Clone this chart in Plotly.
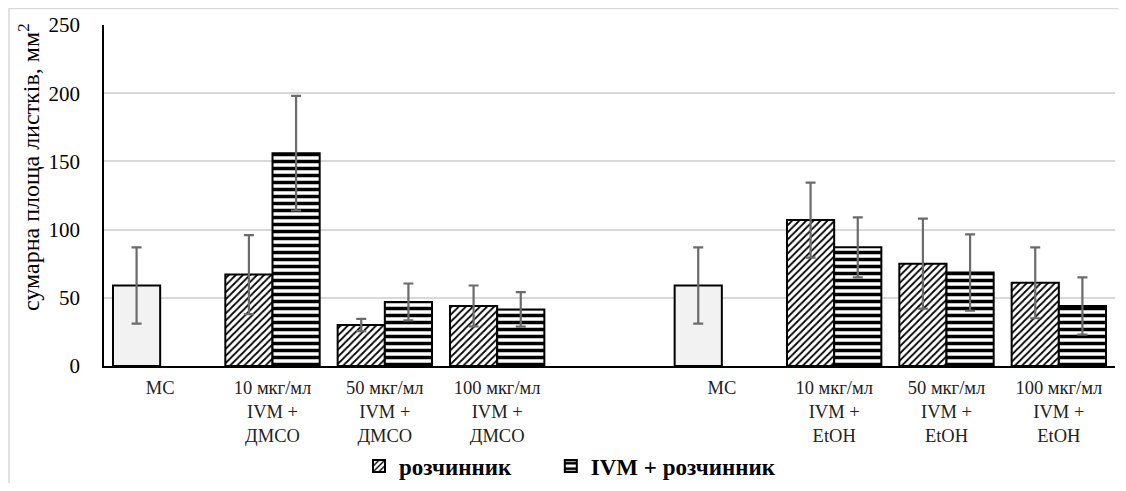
import plotly.graph_objects as go

categories = ["МС", "10 мкг/мл<br>IVM +<br>ДМСО", "50 мкг/мл<br>IVM +<br>ДМСО",
              "100 мкг/мл<br>IVM +<br>ДМСО", "",
              "МС", "10 мкг/мл<br>IVM +<br>EtOH", "50 мкг/мл<br>IVM +<br>EtOH",
              "100 мкг/мл<br>IVM +<br>EtOH"]
control_vals = [59, None, None, None, None, 59, None, None, None]
control_err = [28, 0, 0, 0, 0, 28, 0, 0, 0]
solvent_vals = [None, 67, 30, 44, None, None, 107, 75, 61]
solvent_err = [0, 29, 4.5, 15, 0, 0, 27.5, 33, 26]
ivm_vals = [None, 156, 47, 41.5, None, None, 87, 68.5, 44]
ivm_err = [0, 42, 13.5, 12.7, 0, 0, 22, 28, 21]
yticks = [0, 50, 100, 150, 200, 250]
y_title = "сумарна площа листків, мм<sup>2</sup>"
series_names = ["розчинник", "IVM + розчинник"]

xpos = list(range(len(categories)))
W = 0.42
FONT = "Liberation Serif, DejaVu Serif, serif"
errstyle = dict(type="data", visible=True, color="#6b6b6b", thickness=2.2, width=5)
PAD = "\u00a0" * 6  # extra gap after the first legend entry

fig = go.Figure()
fig.add_trace(go.Bar(
    x=xpos, y=control_vals, width=W, offset=-W, showlegend=False, name="МС",
    marker=dict(color="#f2f2f2", line=dict(color="black", width=2)),
    error_y=dict(array=control_err, **errstyle)))
fig.add_trace(go.Bar(
    x=xpos, y=solvent_vals, width=W, offset=-W, name=series_names[0] + PAD,
    marker=dict(color="white", line=dict(color="black", width=2),
                pattern=dict(shape="/", fgcolor="black", bgcolor="white", size=5,
                             solidity=0.35, fgopacity=1)),
    error_y=dict(array=solvent_err, **errstyle)))
fig.add_trace(go.Bar(
    x=xpos, y=ivm_vals, width=W, offset=0, name=series_names[1],
    marker=dict(color="white", line=dict(color="black", width=2),
                pattern=dict(shape="-", fgcolor="black", bgcolor="white", size=7,
                             solidity=0.5, fgopacity=1)),
    error_y=dict(array=ivm_err, **errstyle)))

# page pixel -> paper coordinates (page has an 8px body margin)
def px_x(p):
    return (p - 104) / 1011

def px_y(p):
    return (366 - p) / 341

fig.add_shape(type="rect", xref="paper", yref="paper",
              x0=px_x(9), x1=px_x(1140), y0=px_y(520), y1=px_y(8.5),
              line=dict(color="#d9d9d9", width=1.5), layer="below")

fig.add_annotation(text=y_title, textangle=-90, showarrow=False,
                   xref="paper", yref="paper", x=px_x(29), y=px_y(167),
                   xanchor="center", yanchor="middle",
                   font=dict(size=24, family=FONT, color="black"))

fig.update_layout(
    width=1110, height=475,
    margin=dict(l=96, r=3, t=17, b=117, autoexpand=False),
    paper_bgcolor="white", plot_bgcolor="white",
    barmode="overlay",
    font=dict(family=FONT, color="black", size=18),
    xaxis=dict(tickmode="array", tickvals=xpos, ticktext=categories,
               range=[-0.5, len(categories) - 0.5], showgrid=False,
               showline=True, linecolor="black", linewidth=1.5,
               ticks="", automargin=False, ticklabelstandoff=4,
               tickfont=dict(size=18.5, family=FONT, color="#222")),
    yaxis=dict(range=[0, 250], tickvals=yticks, showgrid=True,
               gridcolor="#d9d9d9", gridwidth=1.5,
               showline=True, linecolor="black", linewidth=1.5,
               ticks="", zeroline=False, automargin=False,
               ticklabelstandoff=18,
               tickfont=dict(size=21, family=FONT, color="black")),
    legend=dict(orientation="h", xref="container", yref="container",
                x=(372 - 8 - 13) / 1110, xanchor="left",
                y=1 - (466 - 8) / 475, yanchor="middle",
                font=dict(size=23, family=FONT, color="black", weight="bold"),
                itemwidth=30, traceorder="normal"),
)

fig.write_html("out.html")
